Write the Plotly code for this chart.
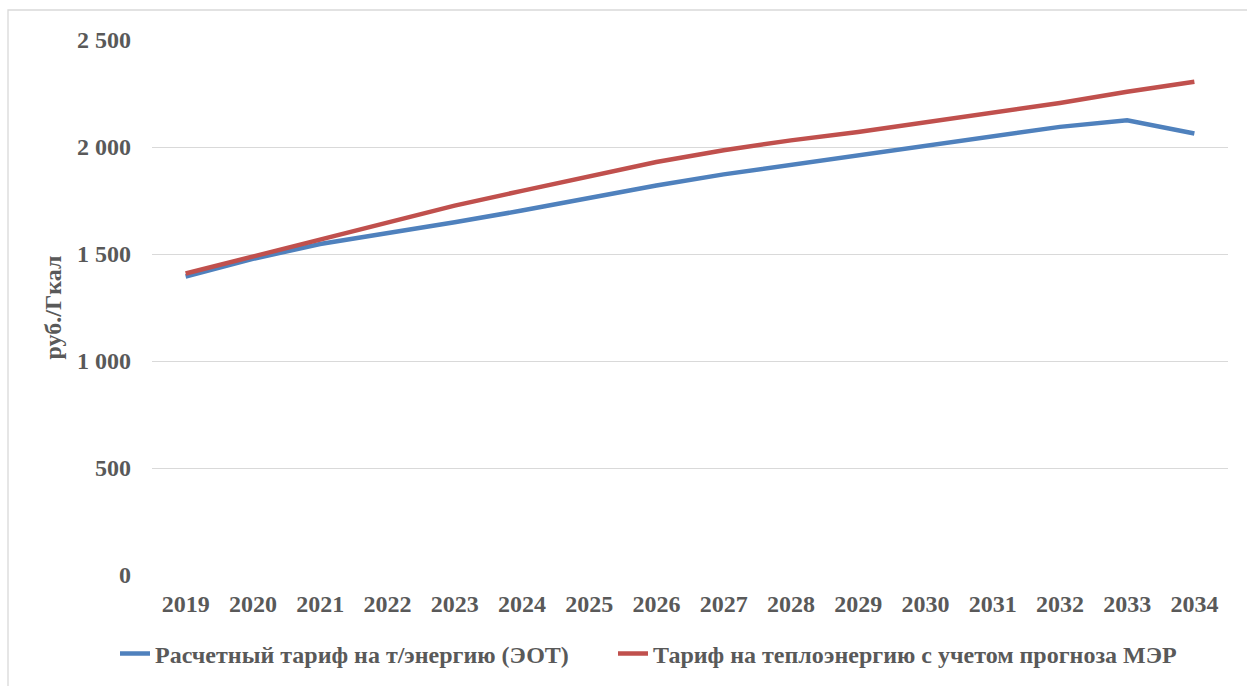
import plotly.graph_objects as go

years = [str(y) for y in range(2019, 2035)]
eot = [1395, 1477, 1547, 1597, 1648, 1703, 1761, 1820, 1872, 1917, 1961, 2008, 2050, 2094, 2125, 2063]
mer = [1409, 1487, 1566, 1645, 1726, 1795, 1863, 1930, 1985, 2031, 2070, 2115, 2156, 2206, 2258, 2305]
name_eot = "Расчетный тариф на т/энергию (ЭОТ)"
name_mer = "Тариф на теплоэнергию с учетом прогноза МЭР"
y_title = "руб./Гкал"

FONT = "Liberation Serif"
TXT = "#595959"
FS = 24

fig = go.Figure()
fig.add_trace(go.Scatter(x=years, y=eot, mode="lines", name=name_eot, legend="legend",
                         line=dict(color="#4F81BD", width=4.5)))
fig.add_trace(go.Scatter(x=years, y=mer, mode="lines", name=name_mer, legend="legend2",
                         line=dict(color="#C0504D", width=4.5)))

leg_common = dict(orientation="h", xref="container", yref="container",
                  xanchor="left", y=1 - 654 / 686, yanchor="middle",
                  font=dict(family=FONT, size=FS, color=TXT, weight="bold"),
                  bgcolor="rgba(0,0,0,0)")

fig.update_layout(
    width=1247, height=686,
    margin=dict(l=152, r=19, t=40, b=111),
    paper_bgcolor="white", plot_bgcolor="white",
    separators=", ",
    font=dict(family=FONT, size=FS, color=TXT, weight="bold"),
    showlegend=True,
    legend=dict(x=115 / 1247, **leg_common),
    legend2=dict(x=613 / 1247, **leg_common),
    xaxis=dict(type="category", range=[-0.5, len(years) - 0.5],
               showgrid=False, zeroline=False, showline=False,
               ticks="", ticklabelstandoff=12,
               tickfont=dict(family=FONT, size=FS, color=TXT, weight="bold")),
    yaxis=dict(range=[0, 2500], dtick=500, tickformat=",d", showgrid=True,
               gridcolor="#D9D9D9", gridwidth=1.3, zeroline=False, showline=False,
               ticks="", ticklabelstandoff=20,
               tickfont=dict(family=FONT, size=FS, color=TXT, weight="bold"),
               title=dict(text=y_title, standoff=8,
                          font=dict(family=FONT, size=FS, color=TXT, weight="bold"))),
    shapes=[dict(type="rect", xref="paper", yref="paper",
                 x0=(8 - 152) / 1076, x1=1.05, y0=-0.25, y1=(575 - 10) / 535,
                 line=dict(color="#D9D9D9", width=1.3), layer="below")],
)

fig.write_html("out.html")
